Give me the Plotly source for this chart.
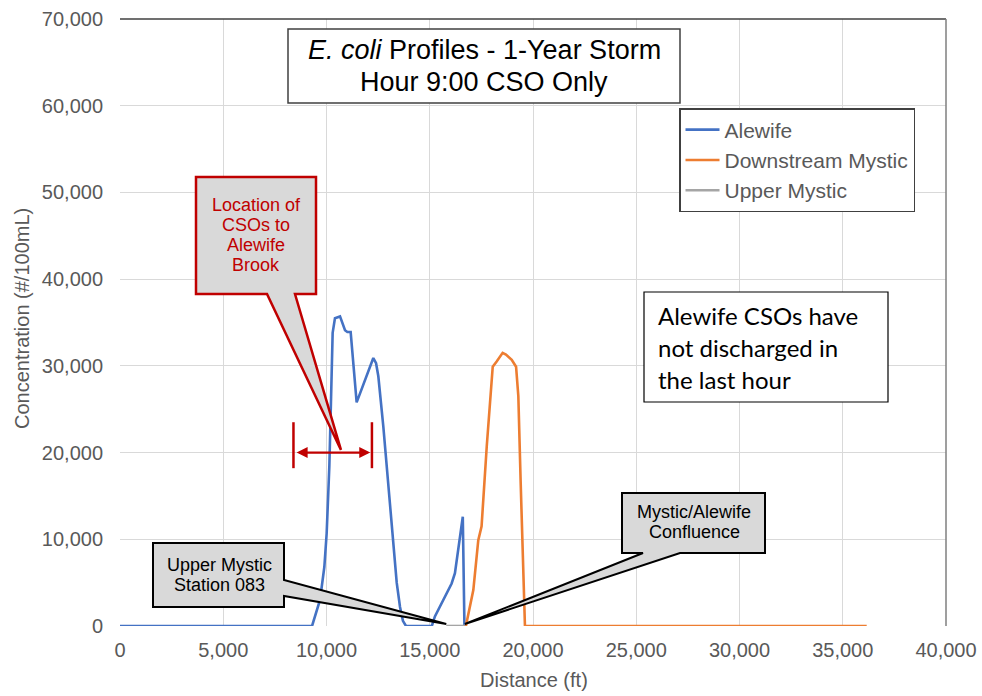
import plotly.graph_objects as go

# ---- data -------------------------------------------------------------
dist_alewife = [0, 9000, 9300, 9685, 9895, 10008, 10137, 10218, 10298, 10410,
                10654, 10896, 11010, 11170, 11300, 11460, 11620, 11860, 12110,
                12267, 12400, 12510, 12752, 13075, 13400, 13560, 13700, 13850,
                15100, 15250, 16060, 16220, 16600, 16680]
conc_alewife = [0, 0, 0, 3000, 6800, 10700, 18400, 26000, 33800, 35500,
                35700, 34100, 33900, 33900, 29900, 25800, 26800, 28400, 30100,
                30900, 30300, 28800, 23000, 13800, 5000, 2200, 600, 0,
                0, 1100, 4900, 6100, 12600, 0]

dist_downstream = [16750, 17110, 17350, 17510, 17760, 17920, 18050, 18240, 18400,
                   18530, 18690, 18970, 19180, 19290, 19400, 19530, 19610, 36160]
conc_downstream = [0, 4150, 9900, 11500, 20700, 26500, 29900, 30500, 31100,
                   31500, 31300, 30700, 29900, 26500, 16800, 7200, 0, 0]

dist_upper = [15800, 16700]
conc_upper = [0, 0]

series_names = ["Alewife", "Downstream Mystic", "Upper Mystic"]
series_colors = ["#4472C4", "#ED7D31", "#A5A5A5"]

x_ticks = list(range(0, 40001, 5000))
y_ticks = list(range(0, 70001, 10000))

cso_range = [8400, 12200]      # extent of the Alewife Brook CSO outfalls (ft)
station_083 = 15800            # Upper Mystic Station 083 (ft)
confluence = 16700             # Mystic/Alewife confluence (ft)

# ---- geometry of the plotting area (pixels) -----------------------------
W, H = 982, 696
L, R, T, B = 120, 36, 19, 70
PW, PH = W - L - R, H - T - B
X_MAX, Y_MAX = 40000, 70000


def px_x(px):
    return (px - L) / PW * X_MAX


def px_y(py):
    return (T + PH - py) / PH * Y_MAX


FONT = "Liberation Sans, Arial, sans-serif"
GREY_TXT = "#595959"
RED = "#C00000"
FILL = "#D9D9D9"

fig = go.Figure()
for i, (xs, ys) in enumerate([(dist_alewife, conc_alewife),
                              (dist_downstream, conc_downstream),
                              (dist_upper, conc_upper)]):
    fig.add_trace(go.Scatter(x=xs, y=ys, mode="lines", name=series_names[i],
                             legendgroup=series_names[i],
                             line=dict(color=series_colors[i], width=2.6)))

shapes = []
annotations = []

# plot-area frame (top and right edges)
shapes.append(dict(type="line", xref="paper", yref="paper", x0=0, x1=1, y0=1, y1=1,
                   line=dict(color="#404040", width=1.5)))
shapes.append(dict(type="line", xref="paper", yref="paper", x0=1, x1=1, y0=0, y1=1,
                   line=dict(color="#7F7F7F", width=1.5)))

# title box
shapes.append(dict(type="rect", x0=px_x(288), x1=px_x(680), y0=px_y(29), y1=px_y(103),
                   line=dict(color="#404040", width=1.5), fillcolor="white"))
annotations.append(dict(x=px_x(484), y=px_y(50), text="<i>E. coli</i> Profiles - 1-Year Storm",
                        showarrow=False, font=dict(family=FONT, size=27, color="black")))
annotations.append(dict(x=px_x(484), y=px_y(82), text="Hour 9:00 CSO Only",
                        showarrow=False, font=dict(family=FONT, size=27, color="black")))

# note box
shapes.append(dict(type="rect", x0=px_x(644), x1=px_x(888), y0=px_y(292), y1=px_y(402),
                   line=dict(color="black", width=1.2), fillcolor="white"))
for k, line in enumerate(["Alewife CSOs have", "not discharged in", "the last hour"]):
    annotations.append(dict(x=px_x(656), y=px_y(315 + 32 * k), text=line, xanchor="left",
                            showarrow=False,
                            font=dict(family="Lato, Carlito, sans-serif", size=24, color="black")))

# callout: CSO locations
shapes.append(dict(type="path", layer="above",
                   path=(f"M {px_x(196)},{px_y(177)} L {px_x(316)},{px_y(177)} "
                         f"L {px_x(316)},{px_y(294)} L {px_x(295)},{px_y(294)} "
                         f"L {sum(cso_range) / 2 + 400},20300 "
                         f"L {px_x(267)},{px_y(294)} L {px_x(196)},{px_y(294)} Z"),
                   fillcolor=FILL, line=dict(color=RED, width=2.5)))
for k, line in enumerate(["Location of", "CSOs to", "Alewife", "Brook"]):
    annotations.append(dict(x=px_x(256), y=px_y(205 + 20 * k), text=line, showarrow=False,
                            font=dict(family=FONT, size=18, color=RED)))

# CSO extent arrow with end bars
annotations.append(dict(x=cso_range[1] - 80, y=20000, ax=cso_range[0] + 80, ay=20000,
                        xref="x", yref="y", axref="x", ayref="y", text="",
                        showarrow=True, arrowside="end+start", arrowhead=2, arrowsize=1,
                        arrowwidth=2.2, arrowcolor=RED))
for xb in cso_range:
    shapes.append(dict(type="line", x0=xb, x1=xb, y0=18200, y1=23500,
                       line=dict(color=RED, width=2.5)))

# callout: Upper Mystic Station 083
shapes.append(dict(type="path", layer="above",
                   path=(f"M {px_x(153)},{px_y(543)} L {px_x(284)},{px_y(543)} "
                         f"L {px_x(284)},{px_y(580)} L {station_083},230 "
                         f"L {px_x(284)},{px_y(596)} L {px_x(284)},{px_y(607)} "
                         f"L {px_x(153)},{px_y(607)} Z"),
                   fillcolor=FILL, line=dict(color="black", width=2)))
for k, line in enumerate(["Upper Mystic", "Station 083"]):
    annotations.append(dict(x=px_x(219), y=px_y(565 + 20 * k), text=line, showarrow=False,
                            font=dict(family=FONT, size=18, color="black")))

# callout: confluence
shapes.append(dict(type="path", layer="above",
                   path=(f"M {px_x(622)},{px_y(493)} L {px_x(765)},{px_y(493)} "
                         f"L {px_x(765)},{px_y(553)} L {px_x(680)},{px_y(553)} "
                         f"L {confluence},230 L {px_x(643)},{px_y(553)} "
                         f"L {px_x(622)},{px_y(553)} Z"),
                   fillcolor=FILL, line=dict(color="black", width=2)))
for k, line in enumerate(["Mystic/Alewife", "Confluence"]):
    annotations.append(dict(x=px_x(694), y=px_y(512 + 20 * k), text=line, showarrow=False,
                            font=dict(family=FONT, size=18, color="black")))

# axis titles
annotations.append(dict(xref="paper", yref="paper", x=(534 - L) / PW, y=(T + PH - 680) / PH,
                        xanchor="center", yanchor="middle",
                        text="Distance (ft)", showarrow=False,
                        font=dict(family=FONT, size=20, color=GREY_TXT)))
annotations.append(dict(xref="paper", yref="paper", x=(22 - L) / PW, y=(T + PH - 319) / PH,
                        xanchor="center", yanchor="middle",
                        text="Concentration (#/100mL)", showarrow=False, textangle=-90,
                        font=dict(family=FONT, size=20, color=GREY_TXT)))

fig.update_layout(
    width=W, height=H,
    margin=dict(l=L, r=R, t=T, b=B, pad=0, autoexpand=False),
    paper_bgcolor="white", plot_bgcolor="white",
    font=dict(family=FONT, size=20, color=GREY_TXT),
    showlegend=True,
    legend=dict(x=(679 - L) / PW, y=(T + PH - 108) / PH, xanchor="left", yanchor="top",
                bgcolor="white", bordercolor="#404040", borderwidth=1.5,
                font=dict(family=FONT, size=21, color=GREY_TXT),
                tracegroupgap=0, itemwidth=34),
    shapes=shapes, annotations=annotations,
    xaxis=dict(range=[0, X_MAX], tickvals=x_ticks, tickformat=",d",
               showgrid=True, gridcolor="#D9D9D9", gridwidth=1.3,
               zeroline=False, showline=False, ticks="", ticklabelstandoff=10,
               tickfont=dict(family=FONT, size=20, color=GREY_TXT)),
    yaxis=dict(range=[0, Y_MAX], tickvals=y_ticks, tickformat=",d",
               showgrid=True, gridcolor="#D9D9D9", gridwidth=1.3,
               zeroline=False, showline=False, ticks="", ticklabelstandoff=16,
               tickfont=dict(family=FONT, size=20, color=GREY_TXT)),
)

fig.write_html("out.html")
